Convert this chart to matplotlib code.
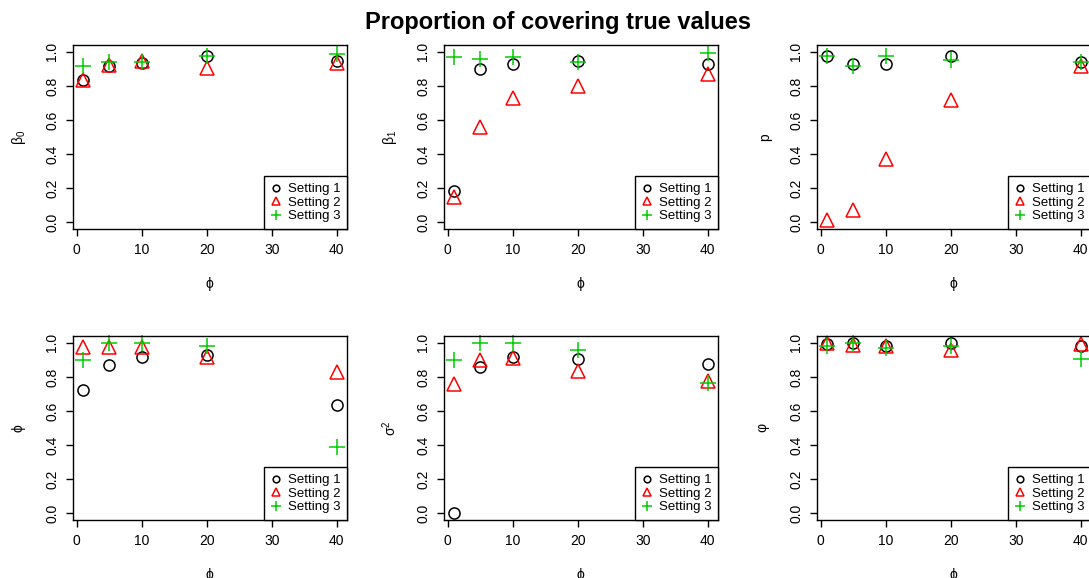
import matplotlib
matplotlib.use("Agg")
import matplotlib.pyplot as plt
from matplotlib.lines import Line2D

plt.rcParams['font.family'] = ['Liberation Sans', 'DejaVu Sans']
plt.rcParams['mathtext.fontset'] = 'dejavusans'
plt.rcParams['mathtext.default'] = 'regular'

# dispersion values used in the simulation
phi_grid = [1, 5, 10, 20, 40]

settings = ["Setting 1", "Setting 2", "Setting 3"]

# coverage proportions per parameter, one list per setting
beta0_s1 = [0.836, 0.914, 0.937, 0.975, 0.945]
beta0_s2 = [0.836, 0.920, 0.945, 0.906, 0.937]
beta0_s3 = [0.918, 0.940, 0.943, 0.975, 0.990]

beta1_s1 = [0.182, 0.898, 0.926, 0.945, 0.926]
beta1_s2 = [0.150, 0.560, 0.728, 0.800, 0.867]
beta1_s3 = [0.969, 0.960, 0.970, 0.943, 0.992]

p_s1 = [0.978, 0.930, 0.926, 0.973, 0.940]
p_s2 = [0.014, 0.074, 0.368, 0.720, 0.916]
p_s3 = [0.974, 0.914, 0.978, 0.950, 0.940]

phi_s1 = [0.725, 0.871, 0.916, 0.928, 0.635]
phi_s2 = [0.975, 0.975, 0.975, 0.916, 0.826]
phi_s3 = [0.897, 1.000, 1.000, 0.984, 0.388]

sigma2_s1 = [0.000, 0.856, 0.916, 0.906, 0.877]
sigma2_s2 = [0.756, 0.902, 0.910, 0.834, 0.776]
sigma2_s3 = [0.897, 1.000, 1.000, 0.955, 0.764]

varphi_s1 = [0.994, 0.998, 0.980, 0.998, 0.984]
varphi_s2 = [1.000, 0.990, 0.979, 0.960, 0.994]
varphi_s3 = [0.979, 1.000, 0.969, 0.984, 0.906]

ylabels = [r'$\beta_0$', r'$\beta_1$', 'p', r'$\phi$', r'$\sigma^2$', r'$\varphi$']
panels = [
    (beta0_s1, beta0_s2, beta0_s3),
    (beta1_s1, beta1_s2, beta1_s3),
    (p_s1, p_s2, p_s3),
    (phi_s1, phi_s2, phi_s3),
    (sigma2_s1, sigma2_s2, sigma2_s3),
    (varphi_s1, varphi_s2, varphi_s3),
]

colors = ['black', '#FF0000', '#00CD00']
markers = ['o', '^', '+']
sizes = [8, 10.5, 11]

W, H = 1089, 578
fig = plt.figure(figsize=(W / 100, H / 100), dpi=100)

# panel boxes in pixels: (left, top), all the same size
lefts = [73, 444, 817]
tops = [45, 336]
aw, ah = 274, 184

for i, (series, ylab) in enumerate(zip(panels, ylabels)):
    row, col = divmod(i, 3)
    l, t = lefts[col], tops[row]
    ax = fig.add_axes([l / W, 1 - (t + ah) / H, aw / W, ah / H])
    for ys, c, m, s in zip(series, colors, markers, sizes):
        ax.plot(phi_grid, ys, linestyle='none', marker=m, markersize=s,
                markerfacecolor='none', markeredgecolor=c, markeredgewidth=1.1,
                clip_on=False)
    ax.set_xlim(-0.56, 41.56)
    ax.set_ylim(-0.04, 1.04)
    ax.set_xticks([0, 10, 20, 30, 40])
    ax.set_yticks([0.0, 0.2, 0.4, 0.6, 0.8, 1.0])
    ax.set_yticklabels(['0.0', '0.2', '0.4', '0.6', '0.8', '1.0'])
    ax.tick_params(axis='both', direction='out', length=5, width=1,
                   labelsize=10, colors='black', pad=5)
    for lab in ax.get_yticklabels():
        lab.set_rotation(90)
        lab.set_va('center')
    for sp in ax.spines.values():
        sp.set_linewidth(1)
    ax.set_xlabel(r'$\phi$', fontsize=10, labelpad=13)
    ax.set_ylabel(ylab, fontsize=10, labelpad=12)

    handles = [Line2D([], [], linestyle='none', marker=m, markersize=s * 0.6,
                      markerfacecolor='none', markeredgecolor=c,
                      markeredgewidth=1.1)
               for c, m, s in zip(colors, markers, sizes)]
    leg = ax.legend(handles, settings, loc='lower right', borderaxespad=0,
                    fancybox=False, framealpha=1, edgecolor='black',
                    fontsize=9.5, handlelength=0.8, handletextpad=0.5,
                    labelspacing=0.1, borderpad=0.5)
    leg.get_frame().set_linewidth(1)

fig.text(558 / W, 1 - 22 / H, 'Proportion of covering true values',
         ha='center', va='center', fontsize=17, fontweight='bold')

fig.savefig('out.png', dpi=100)
